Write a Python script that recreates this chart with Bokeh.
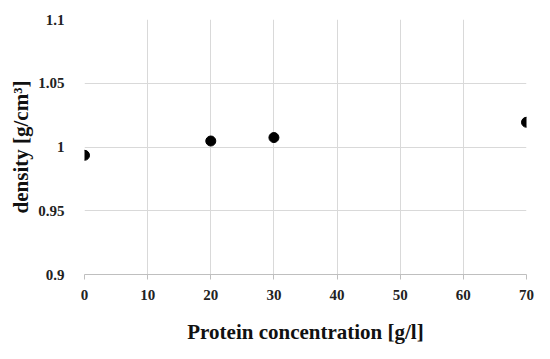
from bokeh.plotting import figure
from bokeh.models import Range1d, FixedTicker
from bokeh.embed import file_html
from bokeh.resources import INLINE

concentration = [0, 20, 30, 70]
density = [0.9935, 1.0047, 1.0074, 1.0194]
x_ticks = [0, 10, 20, 30, 40, 50, 60, 70]
y_ticks = [0.9, 0.95, 1.0, 1.05, 1.1]
y_tick_labels = {0.9: "0.9", 0.95: "0.95", 1.0: "1", 1.05: "1.05", 1.1: "1.1"}

FONT = "Liberation Serif"

p = figure(width=542, height=351, output_backend="svg", toolbar_location=None,
           x_range=Range1d(0, 70), y_range=Range1d(0.9, 1.1),
           min_border_left=84, min_border_right=16, min_border_top=19, min_border_bottom=77)
p.outline_line_color = None
p.background_fill_color = "white"
p.border_fill_color = "white"

p.scatter(concentration, density, size=10, color="black")

for ax in (p.xaxis[0], p.yaxis[0]):
    ax.major_label_text_font = FONT
    ax.major_label_text_font_style = "bold"
    ax.major_label_text_font_size = "15px"
    ax.major_label_text_color = "#222222"
    ax.axis_label_text_font = FONT
    ax.axis_label_text_font_style = "bold"
    ax.axis_label_text_font_size = "21px"
    ax.axis_label_text_color = "#111111"
    ax.minor_tick_line_color = None

p.xaxis.ticker = FixedTicker(ticks=x_ticks)
p.yaxis.ticker = FixedTicker(ticks=y_ticks)
p.yaxis.major_label_overrides = y_tick_labels

p.xaxis.axis_label = "Protein concentration [g/l]"
p.xaxis.axis_line_color = "#bfbfbf"
p.xaxis.major_tick_line_color = "#bfbfbf"
p.xaxis.major_tick_out = 5
p.xaxis.major_tick_in = 0
p.xaxis.major_label_standoff = 10
p.xaxis.axis_label_standoff = 17

p.yaxis.axis_label = "density [g/cm³]"
p.yaxis.axis_line_color = None
p.yaxis.major_tick_line_color = None
p.yaxis.major_label_standoff = 14
p.yaxis.axis_label_standoff = 2

p.xgrid.grid_line_color = "#d9d9d9"
p.ygrid.grid_line_color = "#d9d9d9"
p.xgrid.grid_line_width = 1
p.ygrid.grid_line_width = 1

open("out.html", "w").write(file_html(p, INLINE))
